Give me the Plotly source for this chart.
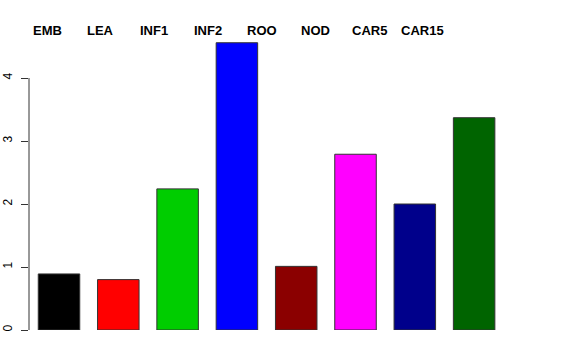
import plotly.graph_objects as go

categories = ["EMB", "LEA", "INF1", "INF2", "ROO", "NOD", "CAR5", "CAR15"]
values = [0.89, 0.80, 2.24, 4.56, 1.01, 2.79, 2.00, 3.37]
colors = ["#000000", "#FF0000", "#00CD00", "#0000FF", "#8B0000", "#FF00FF", "#00008B", "#006400"]
ytick_vals = [0, 1, 2, 3, 4]

xpos = list(range(len(categories)))

fig = go.Figure()
fig.add_trace(go.Bar(
    x=xpos, y=values, width=0.70,
    marker=dict(color=colors, line=dict(color="#333333", width=1)),
    showlegend=False, hoverinfo="skip",
))

# category labels along the top (evenly spaced, as in the reference)
for i, c in enumerate(categories):
    fig.add_annotation(
        x=(47 + 53.7 * i - 59) / 59.3, xref="x",
        y=1.0, yref="paper", yanchor="middle", yshift=-2,
        text="<b>%s</b>" % c, showarrow=False,
        font=dict(family="Liberation Sans, Arial, sans-serif", size=13, color="#000000"),
    )

# y axis line spanning only the tick range
fig.add_shape(type="line", xref="paper", yref="y", x0=0, x1=0,
              y0=ytick_vals[0], y1=ytick_vals[-1], line=dict(color="#333333", width=1))

fig.update_layout(
    width=576, height=360,
    margin=dict(l=29, r=29, t=28, b=30, autoexpand=False),
    plot_bgcolor="white", paper_bgcolor="white",
    xaxis=dict(range=[-0.506, 8.229], visible=False, fixedrange=True, automargin=False),
    yaxis=dict(range=[0, 4.794], tickvals=ytick_vals, ticks="outside", ticklen=7,
               tickcolor="#333333", showgrid=False, zeroline=False, showline=False,
               tickangle=-90, ticklabelstandoff=4, automargin=False, fixedrange=True,
               tickfont=dict(family="Liberation Sans, Arial, sans-serif", size=12, color="#000000")),
)

fig.write_html("out.html", config={"displayModeBar": False},
               post_script="document.body.style.margin='0';")
